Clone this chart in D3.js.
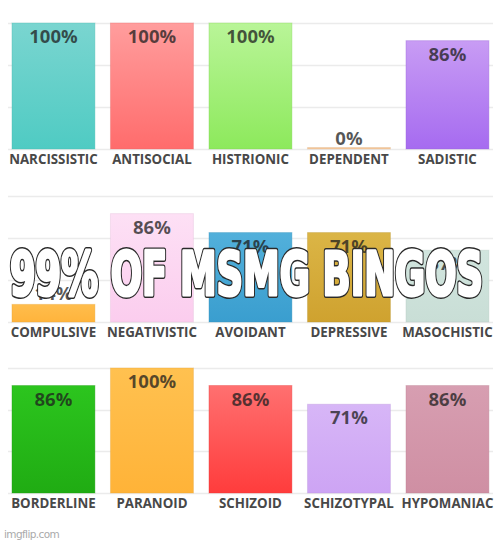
<!DOCTYPE html>
<html>
<head>
<meta charset="utf-8">
<script src="https://cdn.jsdelivr.net/npm/d3@7"></script>
<style>
  html, body { margin: 0; padding: 0; background: #fff; }
  svg { display: block; }
</style>
</head>
<body>
<svg id="paper" width="500" height="543"></svg>
<script>
// chart data, one row of 5 bars per panel
var categories = [
    "NARCISSISTIC", "ANTISOCIAL", "HISTRIONIC", "DEPENDENT", "SADISTIC",
    "COMPULSIVE", "NEGATIVISTIC", "AVOIDANT", "DEPRESSIVE", "MASOCHISTIC",
    "BORDERLINE", "PARANOID", "SCHIZOID", "SCHIZOTYPAL", "HYPOMANIAC"
];
var values = [100, 100, 100, 0, 86, 14, 86, 71, 71, 57, 86, 100, 86, 71, 86];
var colorsTop = [
    "#7ad5d0", "#ff9d9d", "#b9f598", "#f7c89a", "#c89cf4",
    "#ffbd4c", "#fde0f5", "#52b0db", "#dbb546", "#d1e5de",
    "#2cc51e", "#ffc150", "#ff7070", "#d7b6f7", "#d79eb1"
];
var colorsBottom = [
    "#4fcbc3", "#ff6c6c", "#8de95c", "#f7c89a", "#a66bf0",
    "#ffb43c", "#fbcdee", "#3a9ecf", "#cfa22f", "#c9ded6",
    "#20ac13", "#ffb338", "#ff3c3c", "#cda4f4", "#cf8fa3"
];
var gridTicks = [0, 100 / 3, 200 / 3, 100];
var caption = "99% OF MSMG BINGOS";
var watermark = "imgflip.com";

// baseline (0%) and top (100%) of each panel
var rows = [
    { top: 23, bottom: 149 },
    { top: 196, bottom: 322 },
    { top: 368, bottom: 493 }
];

var svg = d3.select("#paper");
var defs = svg.append("defs");

categories.forEach(function (c, i) {
    var g = defs.append("linearGradient")
        .attr("id", "grad" + i)
        .attr("x1", 0).attr("y1", 0).attr("x2", 0).attr("y2", 1);
    g.append("stop").attr("offset", "0%").attr("stop-color", colorsTop[i]);
    g.append("stop").attr("offset", "100%").attr("stop-color", colorsBottom[i]);
});

var x = d3.scaleBand()
    .domain(d3.range(5))
    .range([4.2, 496.7])
    .paddingInner(0.158)
    .paddingOuter(0.079);

rows.forEach(function (row, r) {
    var y = d3.scaleLinear().domain([0, 100]).range([row.bottom, row.top]);
    var panel = svg.append("g").attr("class", "panel" + r);

    // gridlines
    panel.selectAll("line.grid")
        .data(gridTicks)
        .enter().append("line")
        .attr("class", "grid")
        .attr("x1", 8).attr("x2", 493)
        .attr("y1", function (d) { return Math.round(y(d)) + 0.5; })
        .attr("y2", function (d) { return Math.round(y(d)) + 0.5; })
        .attr("stroke", "#ebebeb")
        .attr("stroke-width", 1.5);

    var idx = d3.range(r * 5, r * 5 + 5);

    // bars
    panel.selectAll("rect.bar")
        .data(idx)
        .enter().append("rect")
        .attr("class", "bar")
        .attr("x", function (i) { return x(i - r * 5); })
        .attr("width", x.bandwidth())
        .attr("y", function (i) { return values[i] > 0 ? y(values[i]) : row.bottom - 1.5; })
        .attr("height", function (i) { return values[i] > 0 ? row.bottom - y(values[i]) : 1.5; })
        .attr("fill", function (i) { return "url(#grad" + i + ")"; })
        .attr("stroke", function (i) { return d3.color(colorsBottom[i]).darker(0.3); })
        .attr("stroke-opacity", 0.35)
        .attr("stroke-width", 1);

    // value labels: inside the bar, above it when the bar is short
    panel.selectAll("text.val")
        .data(idx)
        .enter().append("text")
        .attr("class", "val")
        .attr("x", function (i) { return x(i - r * 5) + x.bandwidth() / 2; })
        .attr("y", function (i) {
            var top = y(values[i]);
            return (row.bottom - top) < 26 ? top - 4 : top + 20;
        })
        .attr("text-anchor", "middle")
        .attr("font-family", "'Open Sans', sans-serif")
        .attr("font-weight", 700)
        .attr("font-size", "18.5px")
        .attr("fill", "#1e1e1e")
        .attr("fill-opacity", 0.75)
        .text(function (i) { return values[i] + "%"; });

    // category labels
    panel.selectAll("text.cat")
        .data(idx)
        .enter().append("text")
        .attr("class", "cat")
        .attr("x", function (i) { return x(i - r * 5) + x.bandwidth() / 2; })
        .attr("y", row.bottom + 14.5)
        .attr("text-anchor", "middle")
        .attr("font-family", "'Open Sans', sans-serif")
        .attr("font-weight", 700)
        .attr("font-size", "13.3px")
        .attr("fill", "#484848")
        .text(function (i) { return categories[i]; });
});

// meme caption over the middle row: dark outline layer, then a fat white layer
var capLayers = [
    { stroke: "#2a2a2a", width: 4.6 },
    { stroke: "#fff", width: 2.4 }
];
svg.selectAll("text.caption")
    .data(capLayers)
    .enter().append("text")
    .attr("class", "caption")
    .attr("transform", "translate(10,295) scale(1,1.3)")
    .attr("font-family", "'Liberation Sans Narrow', 'DejaVu Sans Condensed', sans-serif")
    .attr("font-weight", 700)
    .attr("font-size", "46px")
    .attr("textLength", 473)
    .attr("lengthAdjust", "spacingAndGlyphs")
    .attr("fill", "#fff")
    .attr("stroke", function (d) { return d.stroke; })
    .attr("stroke-width", function (d) { return d.width; })
    .attr("stroke-linejoin", "round")
    .text(caption);

svg.append("text")
    .attr("x", 4)
    .attr("y", 538)
    .attr("font-family", "'DejaVu Sans', sans-serif")
    .attr("font-size", "10.5px")
    .attr("letter-spacing", "-0.6px")
    .attr("fill", "#aaa")
    .text(watermark);
</script>
</body>
</html>
